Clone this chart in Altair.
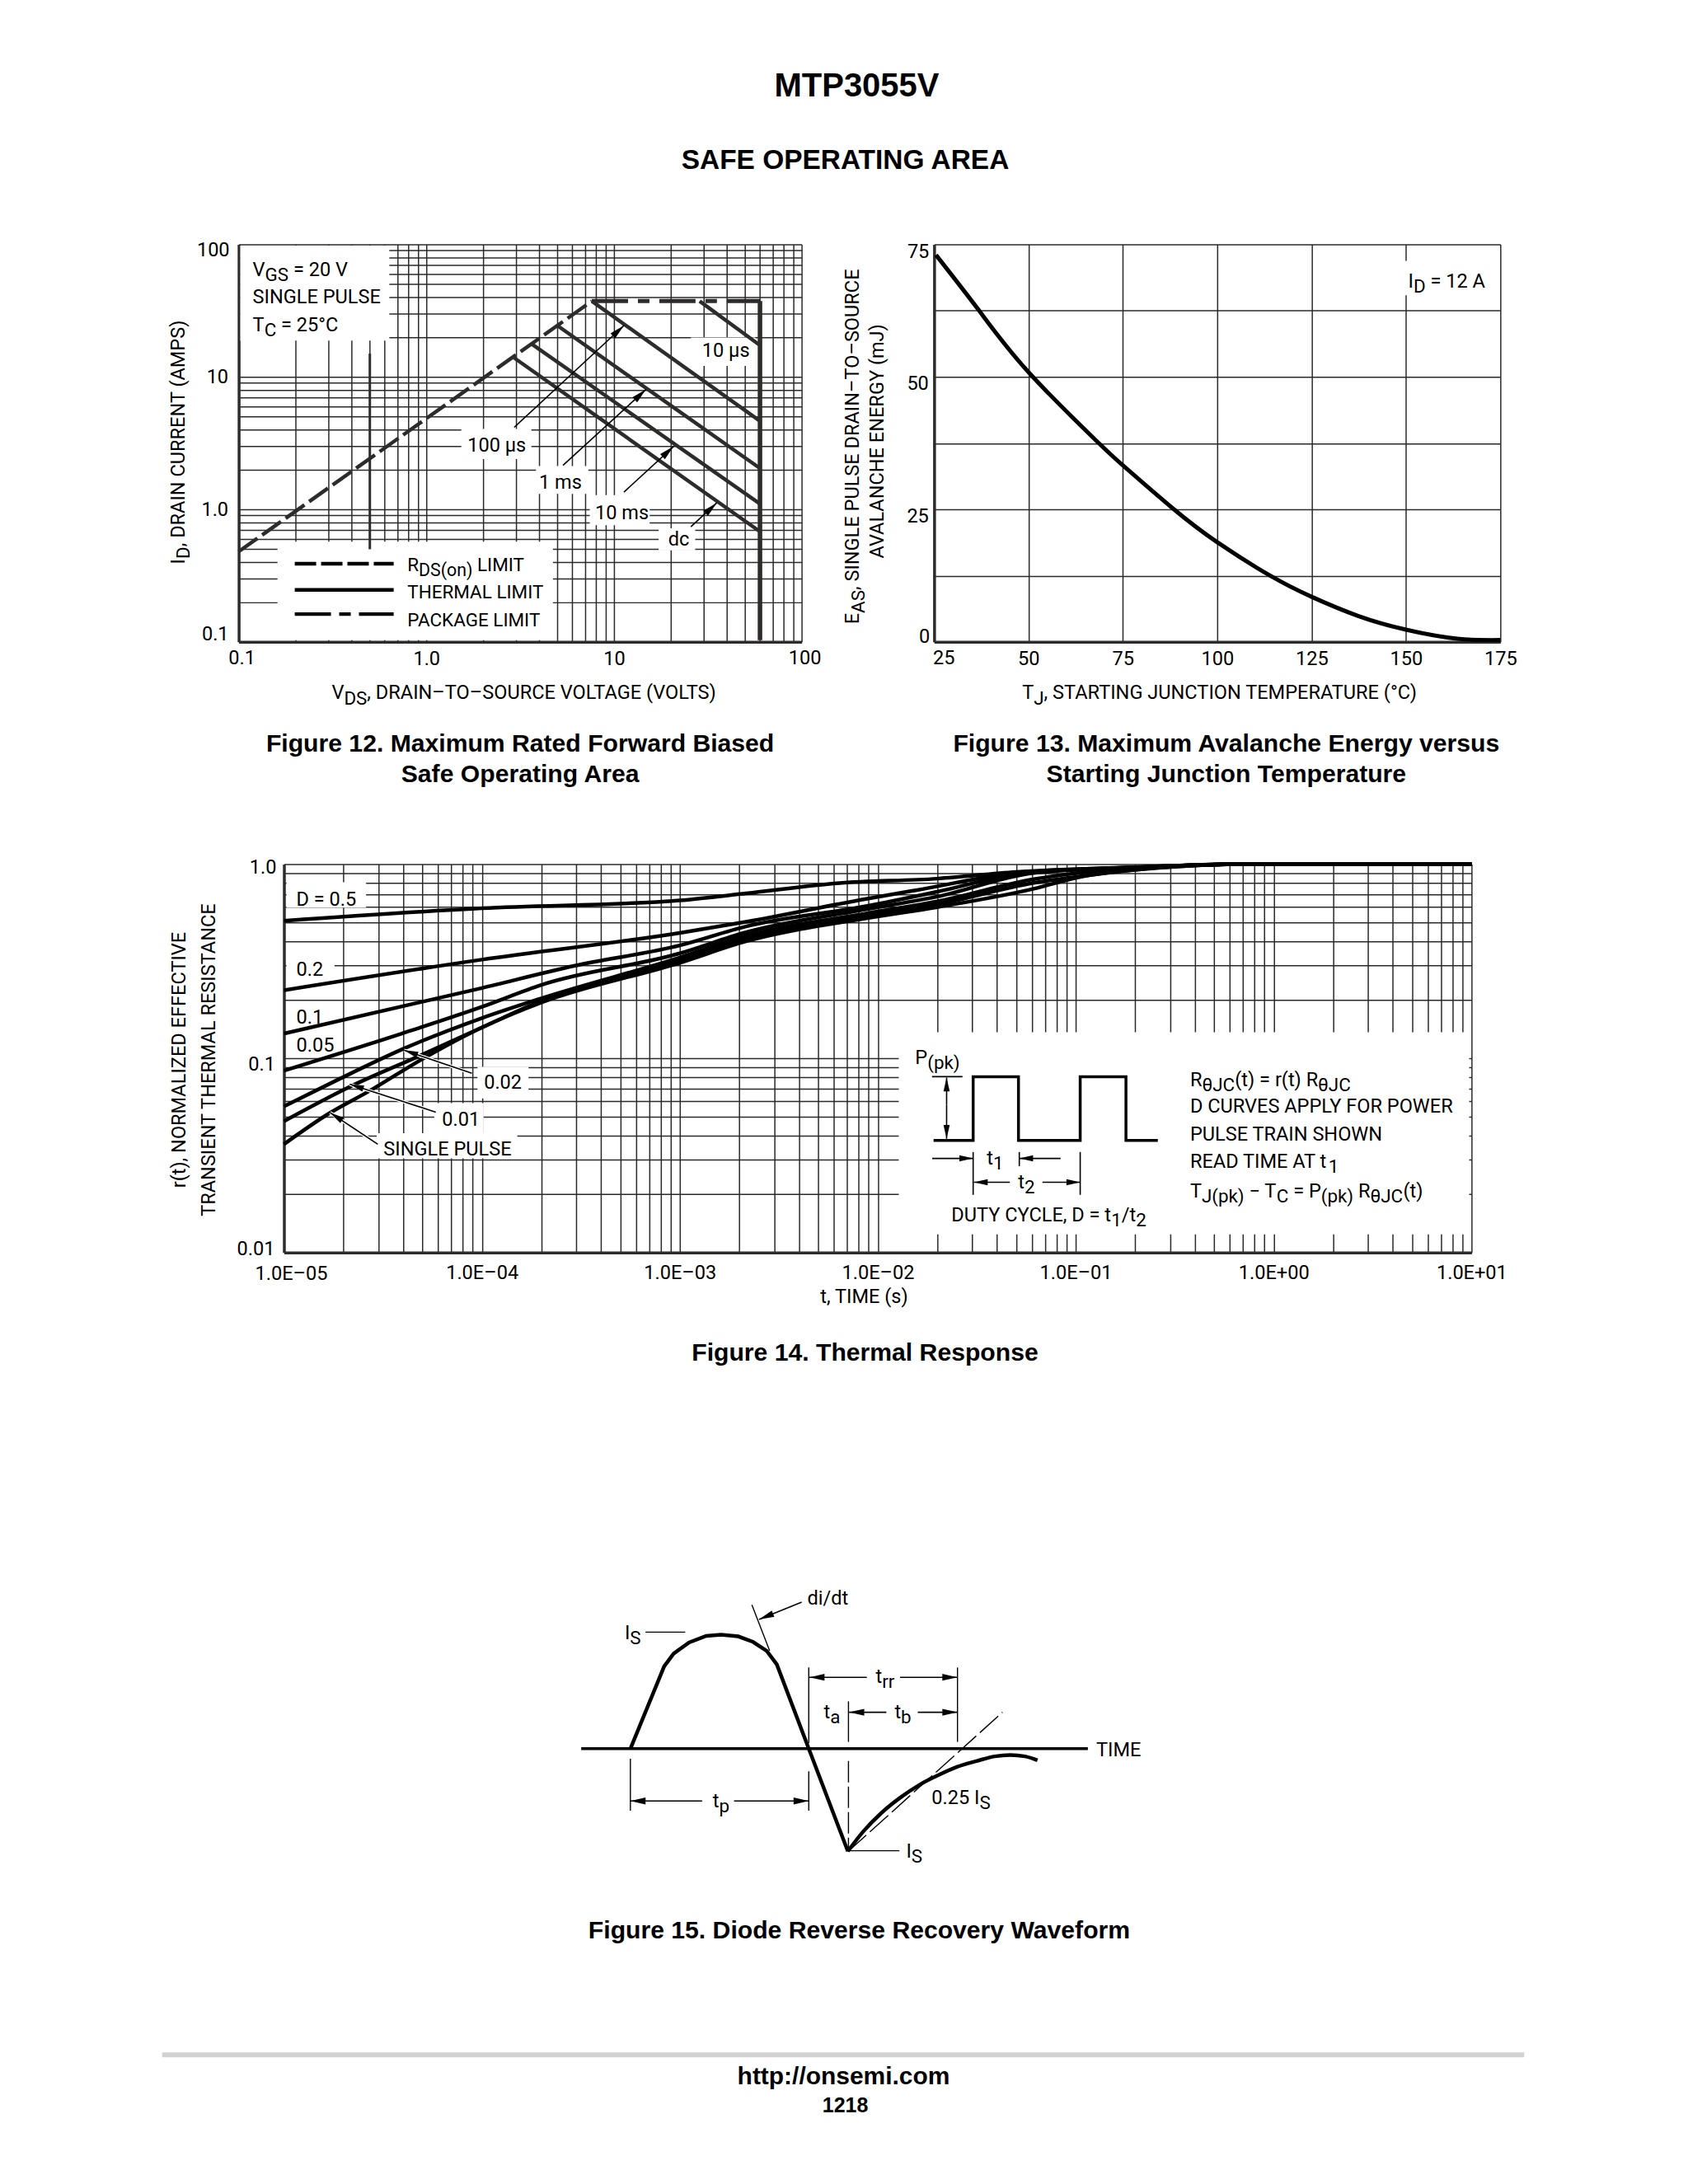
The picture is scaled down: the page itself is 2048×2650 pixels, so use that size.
import re
import altair as alt
import pandas as pd

FONT = "Roboto, Liberation Sans, sans-serif"
BOLD = "Liberation Sans, Arial, sans-serif"
FS = 23.6
DARK = "#2e2b2b"

# ---------- Figure 12 values ----------
f12_rds_x = [0.1, 7.62]
f12_rds_y = [0.48, 37.3]
f12_pkg_x = [7.62, 60]
f12_pkg_y = [37.3, 37.3]
f12_thermal_x = [60, 60]
f12_thermal_y = [37.3, 0.103]
f12_us10_x, f12_us10_y = [28.6, 60], [37.3, 17.3]
f12_us100_x, f12_us100_y = [7.62, 60], [37.3, 4.64]
f12_ms1_x, f12_ms1_y = [4.99, 60], [24.4, 2.04]
f12_ms10_x, f12_ms10_y = [3.67, 60], [17.6, 1.10]
f12_dc_x, f12_dc_y = [2.94, 60], [13.9, 0.68]
f12_leaders = [
    ([2.94, 11.3], [4.16, 24.4], 47),
    ([5.35, 14.8], [2.15, 8.03], 47),
    ([11.3, 20.8], [1.35, 2.99], 47),
    ([25.7, 35.3], [0.74, 1.12], 47),
]
f12_boxes = pd.DataFrame({
    "x":  [0.102, 0.161, 1.536, 3.84, 7.43, 17.3, 25.7],
    "x2": [0.635, 4.73, 3.63, 7.3, 15.5, 27.1, 56.7],
    "y":  [98, 0.571, 4.05, 2.12, 1.28, 0.72, 19.8],
    "y2": [18.8, 0.103, 2.40, 1.31, 0.76, 0.49, 12.1],
})
f12_legend_x = [0.199, 0.67]
f12_legend_y = [0.389, 0.247, 0.162]

# ---------- Figure 13 values ----------
f13_t = [25.5, 36.7, 50, 67.9, 75, 88.2, 100, 114, 125, 137.3, 150, 163.6, 175]
f13_e = [73.0, 62.7, 50.9, 38, 33.3, 25.2, 18.8, 12.5, 8.5, 4.9, 2.3, 0.6, 0.35]
f13_boxes = pd.DataFrame({"x": [149.5], "x2": [174.5], "y": [71.9], "y2": [65.4]})

# ---------- Figure 14 values ----------
f14_curves = {
    "0.5": ([1e-5, 1e-4, 1e-3, 2.16e-3, 6.2e-3, 0.02, 0.05, 0.197, 0.70, 10],
            [0.51, 0.592, 0.65, 0.706, 0.796, 0.841, 0.91, 0.964, 1.0, 1.0]),
    "0.2": ([1e-5, 1e-4, 1e-3, 2.16e-3, 8.85e-3, 0.0156, 0.0554, 0.197, 0.70, 10],
            [0.224, 0.322, 0.442, 0.504, 0.663, 0.733, 0.91, 0.96, 1.0, 1.0]),
    "0.1": ([1e-5, 1e-4, 2.92e-4, 1e-3, 2.16e-3, 8.85e-3, 0.02, 0.0554, 0.197, 0.70, 10],
            [0.134, 0.23, 0.299, 0.381, 0.477, 0.608, 0.72, 0.90, 0.96, 1.0, 1.0]),
    "0.05": ([1e-5, 3.94e-5, 1e-4, 2.01e-4, 1e-3, 2.16e-3, 8.85e-3, 0.02, 0.0614, 0.197, 0.70, 10],
             [0.0863, 0.134, 0.184, 0.239, 0.347, 0.445, 0.586, 0.68, 0.90, 0.96, 1.0, 1.0]),
    "0.02": ([1e-5, 1.88e-5, 3.94e-5, 1e-4, 2.01e-4, 1e-3, 2.16e-3, 8.85e-3, 0.02, 0.0614, 0.197, 0.70, 10],
             [0.0565, 0.0777, 0.111, 0.161, 0.204, 0.33, 0.427, 0.558, 0.643, 0.836, 0.955, 1.0, 1.0]),
    "0.01": ([1e-5, 2.2e-5, 4.85e-5, 1e-4, 2.01e-4, 1e-3, 2.16e-3, 8.85e-3, 0.02, 0.0614, 0.102, 0.254, 0.70, 10],
             [0.0474, 0.0721, 0.103, 0.144, 0.198, 0.322, 0.412, 0.543, 0.62, 0.80, 0.86, 0.955, 1.0, 1.0]),
    "single": ([1e-5, 1.69e-5, 2.72e-5, 4.85e-5, 1e-4, 2.01e-4, 1e-3, 2.16e-3, 8.85e-3, 0.02, 0.0614, 0.102, 0.254, 0.70, 10],
               [0.0361, 0.052, 0.0681, 0.0973, 0.144, 0.194, 0.31, 0.40, 0.527, 0.60, 0.746, 0.853, 0.953, 1.0, 1.0]),
}
f14_boxes = pd.DataFrame({
    "x":  [1.03e-5, 1.03e-5, 1.03e-5, 1.03e-5, 9.5e-5, 5.75e-5, 2.94e-5, 0.01277],
    "x2": [2.6e-5, 1.8e-5, 1.8e-5, 1.8e-5, 1.72e-4, 1.02e-4, 1.51e-4, 9.73],
    "y":  [0.805, 0.34, 0.194, 0.134, 0.0902, 0.0587, 0.0411, 0.136],
    "y2": [0.597, 0.252, 0.144, 0.103, 0.0621, 0.0411, 0.0305, 0.0124],
})
f14_leaders = [
    ([8.9e-5, 4.04e-5], [0.0837, 0.11], 289),
    ([5.85e-5, 2.15e-5], [0.0528, 0.0735], 288),
    ([2.98e-5, 1.71e-5], [0.0361, 0.0525], 303),
]
pulse_x = [0.01914, 0.03034, 0.03034, 0.0514, 0.0514, 0.1054, 0.1054, 0.1795, 0.1795, 0.26]
pulse_y = [0.03775, 0.03775, 0.0804, 0.0804, 0.03775, 0.03775, 0.0804, 0.0804, 0.03775, 0.03775]

# ---------- Figure 15 values ----------
wave_t = [11.8, 17.5, 19.1, 21.7, 24.6, 27.1, 30.0, 32.5, 34.8, 36.5, 41.9, 48.5]
wave_i = [0, 0.73, 0.843, 0.942, 1.0, 1.011, 0.996, 0.947, 0.868, 0.749, 0, -0.91]
rec_t = [48.5, 51.0, 54.2, 57.4, 60.6, 63.8, 67.0, 70.2, 73.3, 75.9, 78.4, 80.5]
rec_i = [-0.91, -0.741, -0.568, -0.432, -0.32, -0.234, -0.16, -0.11, -0.068, -0.056, -0.068, -0.103]

# ---------- helpers ----------
W = dict(zip("ABCDEFGHIJKLMNOPQRSTUVWXYZ",
             [.652, .622, .651, .656, .568, .553, .682, .713, .272, .552, .627, .538, .873, .713, .688, .631, .688,
              .616, .593, .597, .649, .636, .887, .627, .601, .599]))
W.update(zip("abcdefghijklmnopqrstuvwxyz",
             [.544, .561, .523, .564, .530, .347, .561, .551, .243, .239, .507, .243, .876, .552, .570, .561, .568,
              .338, .516, .327, .551, .484, .751, .496, .473, .496]))
W.update({" ": .247, ".": .263, ",": .196, "/": .412, "(": .342, ")": .348, "=": .549, "–": .679, "−": .568,
          "°": .37, "θ": .58, "µ": .57})
def tw(s, size):
    return sum(W.get(c, .562) for c in s) * size

def seq(ox, oy):
    return lambda *a, **k: text(ox, oy, *a, **k)

def one(ox, oy, px, py, s, size, align="left", angle=0, font=FONT, weight="normal", color="black"):
    kw = {"angle": angle} if angle else {}
    return alt.Chart().mark_text(
        align=align, baseline="alphabetic", font=font, fontSize=size, fontWeight=weight, color=color, **kw
    ).encode(x=alt.value(px - ox), y=alt.value(py - oy), text=alt.value(s))

def text(ox, oy, px, py, s, size=FS, align="left", angle=0, **kw):
    parts = re.split(r"(_\{[^}]*\})", s)
    if len(parts) == 1:
        return [one(ox, oy, px, py, s, size, align, angle, **kw)]
    out, adv = [], 0.0
    for p in parts:
        if not p:
            continue
        sub = p.startswith("_{")
        body = p[2:-1] if sub else p
        sz = size * 0.95 if sub else size
        drop = size * 0.27 if sub else 0
        stripped = body.lstrip()
        adv += tw(body[:len(body) - len(stripped)], sz)
        if stripped:
            if angle == 270:
                x, y = px + drop, py - adv
            else:
                x, y = px + adv, py + drop
            out.append(one(ox, oy, x, y, stripped, sz, "left", angle, **kw))
        adv += tw(stripped, sz)
    return out

def line(xs, ys, sx, sy, width=3.5, color="black", dash=None, interp=None, cap="butt", xaxis=alt.Undefined, yaxis=alt.Undefined):
    df = pd.DataFrame({"x": xs, "y": ys, "i": range(len(xs))})
    kw = {}
    if dash:
        kw["strokeDash"] = dash
    if interp:
        kw["interpolate"] = interp
    return alt.Chart(df).mark_line(color=color, strokeWidth=width, strokeCap=cap, clip=False, **kw).encode(
        x=alt.X("x:Q", scale=sx, title=None, axis=xaxis),
        y=alt.Y("y:Q", scale=sy, title=None, axis=yaxis),
        order=alt.Order("i:Q"))

def head(x, y, angle, sx, sy, size=340, color="black"):
    df = pd.DataFrame({"x": [x], "y": [y]})
    return alt.Chart(df).mark_point(shape="M0,0L0.45,2L-0.45,2Z", filled=True, color=color, opacity=1,
                                    size=size, angle=angle).encode(
        x=alt.X("x:Q", scale=sx, title=None), y=alt.Y("y:Q", scale=sy, title=None))

def arrow(xs, ys, angle, sx, sy, width=1.6, size=340, color="black"):
    return [line(xs, ys, sx, sy, width=width, color=color), head(xs[-1], ys[-1], angle, sx, sy, size, color)]

def boxes(df, sx, sy, xaxis, yaxis):
    return alt.Chart(df).mark_rect(fill="white", stroke=None).encode(
        x=alt.X("x:Q", scale=sx, axis=xaxis, title=None), x2="x2:Q",
        y=alt.Y("y:Q", scale=sy, axis=yaxis, title=None), y2="y2:Q")

def label_expr(mapping):
    e = "''"
    for v, lab in reversed(list(mapping.items())):
        e = f"abs(datum.value/{v}-1)<1e-6?'{lab}':" + e
    return e

def axis(values, expr, orient, padding=8, offset=0):
    return alt.Axis(values=values, labelExpr=expr, orient=orient, grid=True, gridColor="#2a2a2a", gridWidth=1.5,
                    gridOpacity=1, tickSize=0, ticks=False, domain=True, domainColor=DARK, domainWidth=3.5,
                    labelFont=FONT, labelFontSize=FS, labelColor="black", labelPadding=padding,
                    labelOverlap=False, labelBound=False, labelFlush=False, labelOffset=offset, title=None)

OFF = alt.Axis(labels=False, ticks=False, domain=False, grid=False, title=None)

def log_grid(lo, hi):
    out = [m * 10.0 ** e for e in range(lo, hi) for m in range(1, 10)]
    return out + [10.0 ** hi]

def blank(w, h):
    return alt.Chart().mark_point(opacity=0).encode(x=alt.value(0), y=alt.value(0)).properties(width=w, height=h)

# ---------- Header panel ----------
T0 = seq(8, 8)
header = alt.layer(
    *T0(1038, 115, "MTP3055V", size=40, align="center", font=BOLD, weight="bold"),
    *T0(1024, 203, "SAFE OPERATING AREA", size=33.5, align="center", font=BOLD, weight="bold"),
).properties(width=2032, height=286.5)

# ---------- Figure 12 ----------
sx12 = alt.Scale(type="log", domain=[0.1, 100], nice=False)
sy12 = alt.Scale(type="log", domain=[0.1, 100], nice=False)
g12 = log_grid(-1, 2)
T = seq(287, 294.5)
layers12 = [
    boxes(f12_boxes, sx12, sy12,
          axis(g12, label_expr({1: "1.0", 10: "10"}), "bottom", padding=9),
          axis(g12, label_expr({1: "1.0", 10: "10"}), "left", padding=13)),
    line([0.5, 0.5], [0.5, 15], sx12, sy12, width=3, color=DARK),
    line(f12_rds_x, f12_rds_y, sx12, sy12, width=4.5, color=DARK, dash=[28, 7]),
    line(f12_pkg_x, f12_pkg_y, sx12, sy12, width=5, color=DARK, dash=[44, 12, 14, 12]),
    line(f12_thermal_x, f12_thermal_y, sx12, sy12, width=5.5, color=DARK),
]
for xs, ys in [(f12_us10_x, f12_us10_y), (f12_us100_x, f12_us100_y), (f12_ms1_x, f12_ms1_y),
               (f12_ms10_x, f12_ms10_y), (f12_dc_x, f12_dc_y)]:
    layers12.append(line(xs, ys, sx12, sy12, width=4.5, color=DARK))
for xs, ys, a in f12_leaders:
    layers12 += arrow(xs, ys, a, sx12, sy12)
layers12.append(line(f12_legend_x, [f12_legend_y[0]] * 2, sx12, sy12, width=4.5, dash=[26, 6]))
layers12.append(line(f12_legend_x, [f12_legend_y[1]] * 2, sx12, sy12, width=4.5))
layers12.append(line(f12_legend_x, [f12_legend_y[2]] * 2, sx12, sy12, width=4.5, dash=[44, 10, 14, 10]))
for args in [
    (304, 333, "V_{GS} = 20 V"), (304, 366, "SINGLE PULSE"), (304, 400, "T_{C} = 25°C"),
    (850, 431, "10 µs"), (565, 546, "100 µs"), (652, 591, "1 ms"), (720, 628, "10 ms"), (809, 661, "dc"),
    (400, 847, "V_{DS}, DRAIN–TO–SOURCE VOLTAGE (VOLTS)"),
]:
    layers12 += T(*args)
for args in [(492, 692, "R_{DS(on)} LIMIT"), (492, 725, "THERMAL LIMIT"), (492, 759, "PACKAGE LIMIT")]:
    layers12 += T(*args, size=22.5)
layers12 += T(276, 309, "100", align="right")
layers12 += T(275, 776, "0.1", align="right")
layers12 += T(291, 805, "0.1", align="center")
layers12 += T(975, 805, "100", align="center")
layers12 += T(221, 683, "I_{D}, DRAIN CURRENT (AMPS)", angle=270)
fig12 = alt.layer(*layers12).properties(width=684, height=483)

# ---------- Figure 13 ----------
sx13 = alt.Scale(type="linear", domain=[25, 175], nice=False)
sy13 = alt.Scale(type="linear", domain=[0, 75], nice=False)
T = seq(1132, 294.5)
x13 = axis([25, 50, 75, 100, 125, 150, 175], "datum.value==25?'':''+datum.value", "bottom", padding=9)
y13 = axis([0, 12.5, 25, 37.5, 50, 62.5, 75],
           "(datum.value==25||datum.value==50)?''+datum.value:''", "left", padding=7, offset=8)
layers13 = [
    boxes(f13_boxes, sx13, sy13, x13, y13),
    line(f13_t, f13_e, sx13, sy13, width=5, interp="natural"),
]
layers13 += T(1708, 347, "I_{D} = 12 A")
layers13 += T(1239, 847, "T_{J}, STARTING JUNCTION TEMPERATURE (°C)")
layers13 += T(1041, 756, "E_{AS}, SINGLE PULSE DRAIN–TO–SOURCE", angle=270)
layers13 += T(1071, 676, "AVALANCHE ENERGY (mJ)", angle=270)
layers13 += T(1126, 311, "75", align="right")
layers13 += T(1127, 779, "0", align="right")
layers13 += T(1144, 805, "25", align="center")
fig13 = alt.layer(*layers13).properties(width=688, height=483)

# ---------- Captions row ----------
T = seq(8, 777.5)
cap = dict(size=30.2, align="center", font=BOLD, weight="bold")
captions = alt.layer(
    *T(629, 911, "Figure 12. Maximum Rated Forward Biased", **cap),
    *T(629, 948, "Safe Operating Area", **cap),
    *T(1487, 911, "Figure 13. Maximum Avalanche Energy versus", **cap),
    *T(1487, 948, "Starting Junction Temperature", **cap),
).properties(width=2032, height=269.5)

# ---------- Figure 14 ----------
sx14 = alt.Scale(type="log", domain=[1e-5, 10], nice=False)
sy14 = alt.Scale(type="log", domain=[0.01, 1], nice=False)
T = seq(342, 1047)
labx14 = {1e-4: "1.0E–04", 1e-3: "1.0E–03", 1e-2: "1.0E–02", 1e-1: "1.0E–01", 1: "1.0E+00", 10: "1.0E+01"}
layers14 = [
    boxes(f14_boxes, sx14, sy14,
          axis(log_grid(-5, 1), label_expr(labx14), "bottom", padding=13),
          axis(log_grid(-2, 0), label_expr({0.1: "0.1"}), "left", padding=11, offset=7)),
]
for k, (xs, ys) in f14_curves.items():
    layers14.append(line(xs, ys, sx14, sy14, width=4.5, interp="monotone"))
for xs, ys, a in f14_leaders:
    layers14.append(line(xs, ys, sx14, sy14, width=4, color="white"))
    layers14 += arrow(xs, ys, a, sx14, sy14, size=300)
layers14.append(line(pulse_x, pulse_y, sx14, sy14, width=3.5))
layers14 += arrow([0.02228, 0.02228], [0.0577, 0.0795], 0, sx14, sy14, size=280)
layers14 += arrow([0.02228, 0.02228], [0.0577, 0.0385], 180, sx14, sy14, size=280)
layers14.append(line([0.0188, 0.0268], [0.0804, 0.0804], sx14, sy14, width=1.6))
layers14 += arrow([0.01884, 0.03034], [0.0305, 0.0305], 90, sx14, sy14, size=280)
layers14 += arrow([0.0839, 0.0519], [0.0305, 0.0305], 270, sx14, sy14, size=280)
layers14.append(line([0.03034, 0.03034], [0.0329, 0.0198], sx14, sy14, width=1.6))
layers14.append(line([0.0519, 0.0519], [0.0329, 0.0278], sx14, sy14, width=1.6))
layers14.append(line([0.1054, 0.1054], [0.0329, 0.0198], sx14, sy14, width=1.6))
layers14 += arrow([0.0465, 0.0306], [0.0230, 0.0230], 270, sx14, sy14, size=280)
layers14 += arrow([0.0679, 0.1054], [0.0230, 0.0230], 90, sx14, sy14, size=280)
for args in [
    (357, 1098, "D = 0.5"), (357, 1183, "0.2"), (357, 1241, "0.1"), (357, 1275, "0.05"),
    (585, 1320, "0.02"), (534, 1365, "0.01"), (463, 1401, "SINGLE PULSE"),
    (1109, 1290, "P_{(pk)}"), (1196, 1412, "t_{1}"), (1234, 1441, "t_{2}"),
    (1153, 1481, "DUTY CYCLE, D = t_{1}/t_{2}"),
    (1443, 1317, "R_{θJC}(t) = r(t) R_{θJC}"), (1443, 1349, "D CURVES APPLY FOR POWER"),
    (1443, 1383, "PULSE TRAIN SHOWN"), (1443, 1416, "READ TIME AT t_{1}"),
    (1443, 1452, "T_{J(pk)} − T_{C} = P_{(pk)} R_{θJC}(t)"),
]:
    layers14 += T(*args)
layers14 += T(1047, 1580, "t, TIME (s)", align="center")
layers14 += T(222, 1285, "r(t), NORMALIZED EFFECTIVE", align="center", angle=270)
layers14 += T(258, 1285, "TRANSIENT THERMAL RESISTANCE", align="center", angle=270)
layers14 += T(333, 1059, "1.0", align="right")
layers14 += T(331, 1522, "0.01", align="right")
layers14 += T(351, 1552, "1.0E–05", align="center")
fig14 = alt.layer(*layers14).properties(width=1443, height=472)

# ---------- Caption 14 ----------
T = seq(8, 1519)
caption14 = alt.layer(*T(1048, 1650, "Figure 14. Thermal Response", **cap)).properties(width=2032, height=379)

# ---------- Figure 15 ----------
sx15 = alt.Scale(type="linear", domain=[0, 100], nice=False)
sy15 = alt.Scale(type="linear", domain=[-1.285, 1.635], nice=False)
T = seq(680, 1900)
layers15 = [
    line([3.5, 89], [0, 0], sx15, sy15, width=3.5, xaxis=OFF, yaxis=OFF),
    line(wave_t, wave_i, sx15, sy15, width=4.5),
    line(rec_t, rec_i, sx15, sy15, width=4.5, interp="monotone"),
    line([11.8, 11.8], [-0.09, -0.55], sx15, sy15, width=1.4),
    line([41.9, 41.9], [-0.2, -0.55], sx15, sy15, width=1.4),
    line([41.9, 41.9], [0.72, 0.05], sx15, sy15, width=1.4),
    line([48.6, 48.6], [0.42, 0.06], sx15, sy15, width=1.4),
    line([48.6, 48.6], [-0.11, -0.91], sx15, sy15, width=1.4, dash=[26, 5]),
    line([67, 67], [0.72, 0.06], sx15, sy15, width=1.4),
    line([48.5, 74.6], [-0.914, 0.323], sx15, sy15, width=1.4, dash=[30, 6]),
    line([32.3, 35.3], [1.276, 0.868], sx15, sy15, width=1.4),
    line([14.35, 21.05], [1.034, 1.034], sx15, sy15, width=1.4),
    line([48.6, 57.2], [-0.905, -0.905], sx15, sy15, width=1.4),
]
layers15 += arrow([40.7, 33.5], [1.3, 1.147], 248, sx15, sy15)
layers15 += arrow([51.7, 42.0], [0.633, 0.633], 270, sx15, sy15)
layers15 += arrow([57.3, 67.0], [0.633, 0.633], 90, sx15, sy15)
layers15 += arrow([55, 48.7], [0.323, 0.323], 270, sx15, sy15)
layers15 += arrow([60.3, 67.0], [0.323, 0.323], 90, sx15, sy15)
layers15 += arrow([23.9, 11.8], [-0.464, -0.464], 270, sx15, sy15)
layers15 += arrow([29.3, 41.9], [-0.464, -0.464], 90, sx15, sy15)
for args in [
    (758, 1991, "I_{S}"), (980, 1949, "di/dt"), (1063, 2044, "t_{rr}"), (1000, 2087, "t_{a}"),
    (1086, 2087, "t_{b}"), (1331, 2133, "TIME"), (1131, 2191, "0.25 I_{S}"), (865, 2195, "t_{p}"),
    (1100, 2256, "I_{S}"),
]:
    layers15 += T(*args)
fig15 = alt.layer(*layers15).properties(width=720, height=400)

# ---------- Footer ----------
T = seq(8, 2298)
footer = alt.layer(
    alt.Chart().mark_rule(color="#d2d2d2", strokeWidth=6).encode(
        x=alt.value(186), x2=alt.value(1841), y=alt.value(196)),
    *T(1041, 2353, "Figure 15. Diode Reverse Recovery Waveform", **cap),
    *T(1022, 2530, "http://onsemi.com", size=30, align="center", font=BOLD, weight="bold"),
    *T(1024, 2564, "1218", size=25, align="center", font=BOLD, weight="bold"),
).properties(width=2032, height=340)

H = dict(spacing=0, bounds="flush")
chart = alt.vconcat(
    header,
    alt.hconcat(blank(279, 483), fig12, blank(161, 483), fig13, **H),
    blank(2032, 483),
    captions,
    alt.hconcat(blank(334, 472), fig14, **H),
    blank(2032, 472),
    caption14,
    alt.hconcat(blank(670, 400), fig15, **H),
    blank(2032, 400),
    footer,
    **H,
).properties(padding=0, background="white").configure_view(stroke=None)

chart.save("out.html", embed_options={"renderer": "svg", "actions": False})
